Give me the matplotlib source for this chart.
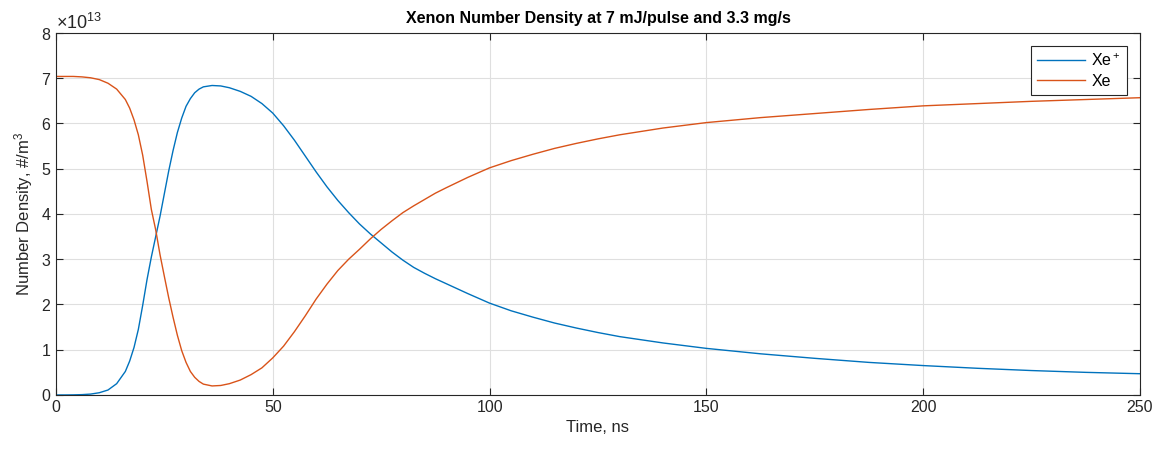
import matplotlib.pyplot as plt

# MATLAB-ish look
plt.rcParams['font.family'] = ['Liberation Sans', 'DejaVu Sans']
plt.rcParams['mathtext.fontset'] = 'custom'
plt.rcParams['mathtext.rm'] = 'Liberation Sans'
plt.rcParams['mathtext.it'] = 'Liberation Sans:italic'

# time in ns (first two points: Xe jumps up at t=0)
time_ns = [0, 0, 2, 4, 6, 8, 10, 12, 14, 16, 17, 18, 19, 20, 21, 22, 23, 24, 25,
           26, 27, 28, 29, 30, 31, 32, 33, 34, 36, 38, 40, 42.5, 45, 47.5, 50,
           52.5, 55, 57.5, 60, 62.5, 65, 67.5, 70, 72.5, 75, 77.5, 80, 82.5, 85,
           87.5, 90, 95, 100, 105, 110, 115, 120, 125, 130, 140, 150, 162.5, 175,
           187.5, 200, 212.5, 225, 237.5, 250]

# number densities in units of 1e13 #/m^3
xe_ion = [0, 0, 0.001, 0.003, 0.008, 0.02, 0.05, 0.11, 0.25, 0.52, 0.75, 1.05,
          1.45, 1.98, 2.55, 3.05, 3.50, 3.95, 4.45, 4.95, 5.40, 5.80, 6.12, 6.38,
          6.55, 6.68, 6.76, 6.81, 6.84, 6.83, 6.79, 6.71, 6.60, 6.44, 6.23, 5.95,
          5.63, 5.28, 4.93, 4.60, 4.30, 4.03, 3.78, 3.56, 3.36, 3.16, 2.98, 2.82,
          2.69, 2.57, 2.46, 2.24, 2.03, 1.86, 1.72, 1.59, 1.48, 1.38, 1.29, 1.15,
          1.03, 0.91, 0.81, 0.72, 0.65, 0.59, 0.54, 0.50, 0.47]
xe_neutral = [0, 7.04, 7.04, 7.04, 7.03, 7.01, 6.97, 6.89, 6.76, 6.53, 6.34, 6.08,
              5.75, 5.30, 4.72, 4.10, 3.65, 3.10, 2.62, 2.15, 1.72, 1.32, 0.98,
              0.72, 0.52, 0.39, 0.30, 0.24, 0.20, 0.21, 0.25, 0.33, 0.45, 0.60,
              0.82, 1.08, 1.40, 1.75, 2.12, 2.45, 2.75, 3.00, 3.22, 3.45, 3.66,
              3.85, 4.03, 4.18, 4.32, 4.46, 4.58, 4.81, 5.02, 5.18, 5.32, 5.45,
              5.56, 5.66, 5.75, 5.90, 6.02, 6.13, 6.22, 6.31, 6.39, 6.44, 6.49,
              6.53, 6.57]

scale = 1e13
fig = plt.figure(figsize=(11.61, 4.49), dpi=100)
ax = fig.add_axes([0.0482, 0.1203, 0.9337, 0.8062])

ax.plot(time_ns, [v * scale for v in xe_ion], color='#0072BD', lw=1.0, label='Xe$^+$')
ax.plot(time_ns, [v * scale for v in xe_neutral], color='#D95319', lw=1.0, label='Xe')

ax.set_xlim(0, 250)
ax.set_ylim(0, 8e13)
ax.set_xticks([0, 50, 100, 150, 200, 250])
ax.set_yticks([i * scale for i in range(9)])
ax.ticklabel_format(axis='y', style='sci', scilimits=(0, 0), useMathText=True)
ax.yaxis.get_offset_text().set_fontsize(13)
ax.yaxis.get_offset_text().set_color('#262626')

ax.grid(True, color='#dfdfdf', lw=0.8)
ax.set_axisbelow(True)
ax.tick_params(direction='in', length=5, top=True, right=True,
               labelsize=11.5, colors='#262626', width=0.8)
for s in ax.spines.values():
    s.set_color('#262626')
    s.set_linewidth(0.8)

ax.set_title('Xenon Number Density at 7 mJ/pulse and 3.3 mg/s',
             fontsize=11.5, fontweight='bold', pad=7)
ax.set_xlabel('Time, ns', fontsize=12, color='#262626')
ax.set_ylabel('Number Density, #/m$^3$', fontsize=12, color='#262626')

leg = ax.legend(loc='upper right', fontsize=11.5, fancybox=False, framealpha=1,
                edgecolor='#262626', borderaxespad=0.8, handlelength=3.0,
                handletextpad=0.4, borderpad=0.4, labelspacing=0.3)
leg.get_frame().set_linewidth(0.8)

fig.savefig('out.png', dpi=100)
